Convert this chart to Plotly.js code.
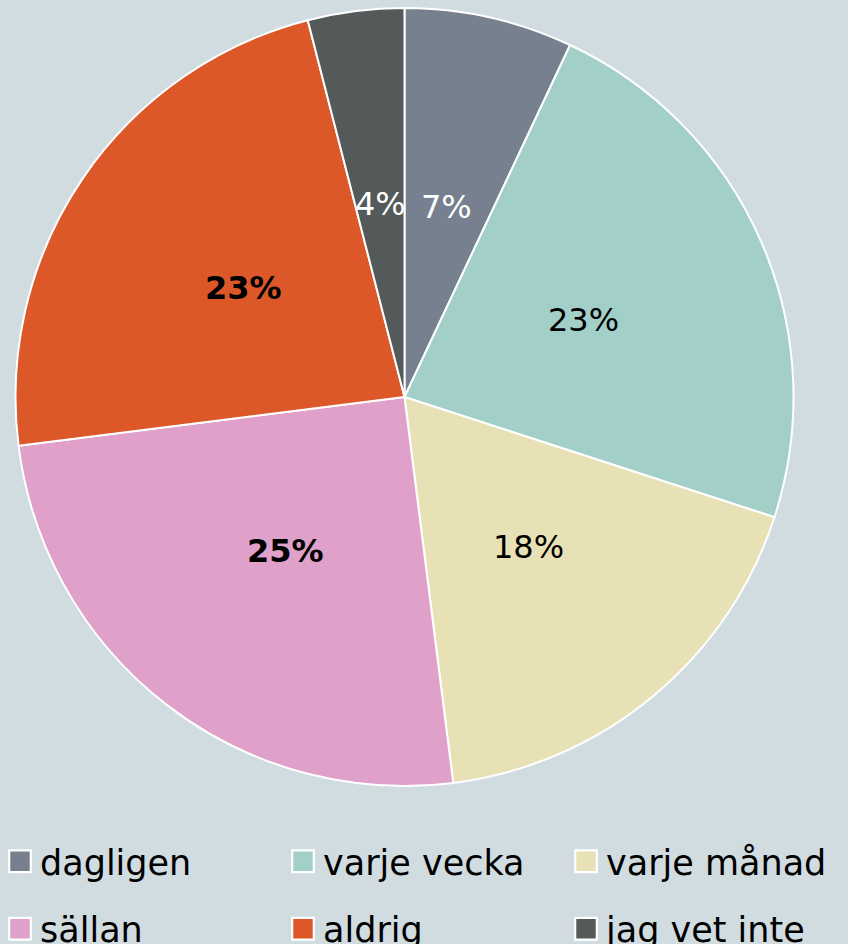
<!DOCTYPE html>
<html><head><meta charset="utf-8">
<script src="https://cdn.plot.ly/plotly-3.0.1.min.js"></script>
<style>html,body{margin:0;padding:0;background:#d1dce0;}</style>
</head><body>
<div id="chart" style="width:848px;height:944px;"></div>
<script>
const categories = ['dagligen', 'varje vecka', 'varje månad', 'sällan', 'aldrig', 'jag vet inte'];
const values = [7, 23, 18, 25, 23, 4];
const colors = ['#77808e', '#a3cfc9', '#e8e1b6', '#dfa0c9', '#dc5828', '#545a59'];
const textColors = ['#ffffff', '#000000', '#000000', '#000000', '#000000', '#ffffff'];
const boldLabels = [false, false, false, true, true, false];

const total = values.reduce((a, b) => a + b, 0);
const annotations = [];
let cum = 0;
values.forEach((v, i) => {
  const mid = (cum + v / 2) / total * 2 * Math.PI;
  cum += v;
  const pct = Math.round(v / total * 100) + '%';
  annotations.push({
    xref: 'x', yref: 'y',
    x: 0.5 * Math.sin(mid), y: 0.5 * Math.cos(mid),
    text: boldLabels[i] ? '<b>' + pct + '</b>' : pct,
    showarrow: false,
    xanchor: 'center', yanchor: 'middle',
    font: {family: 'DejaVu Sans', size: 32, color: textColors[i]}
  });
});

const pieDomX = [15 / 848, 794 / 848];
const pieDomY = [1 - 786 / 944, 1 - 8 / 944];

const pie = {
  type: 'pie',
  labels: categories,
  values: values,
  sort: false,
  direction: 'clockwise',
  rotation: 0,
  marker: {colors: colors, line: {color: '#ffffff', width: 2}},
  textinfo: 'none',
  hoverinfo: 'none',
  domain: {x: pieDomX, y: pieDomY}
};

const layout = {
  width: 848, height: 944,
  margin: {l: 0, r: 0, t: 0, b: 0, autoexpand: false},
  paper_bgcolor: '#d1dce0',
  plot_bgcolor: 'rgba(0,0,0,0)',
  xaxis: {domain: pieDomX, range: [-1, 1], visible: false, fixedrange: true},
  yaxis: {domain: pieDomY, range: [-1, 1], visible: false, fixedrange: true},
  annotations: annotations,
  showlegend: true,
  legend: {
    orientation: 'h',
    x: 0, xanchor: 'left',
    y: 1 - 832 / 944, yanchor: 'top',
    font: {family: 'DejaVu Sans', size: 35, color: '#000000'},
    entrywidth: 238, entrywidthmode: 'pixels',
    itemwidth: 30,
    bgcolor: 'rgba(0,0,0,0)'
  }
};

Plotly.newPlot('chart', [pie], layout, {displayModeBar: false, staticPlot: true}).then(gd => {
  const scroll = gd.querySelector('.legend .scrollbox');
  if (scroll) scroll.removeAttribute('clip-path');
  const items = gd.querySelectorAll('.legend .traces');
  items.forEach((it, i) => {
    const pts = it.querySelector('.legendpoints path');
    if (pts) {
      pts.setAttribute('transform', (pts.getAttribute('transform') || '') + ' scale(1.8)');
      pts.style.strokeWidth = '1.2px';
    }
    if (i >= 3) {
      const tr = it.getAttribute('transform') || '';
      const m = tr.match(/translate\(\s*([-\d.]+)[ ,]+([-\d.]+)\s*\)/);
      if (m) it.setAttribute('transform', 'translate(' + m[1] + ',' + (parseFloat(m[2]) + 19) + ')');
    }
  });
});
</script>
</body></html>
